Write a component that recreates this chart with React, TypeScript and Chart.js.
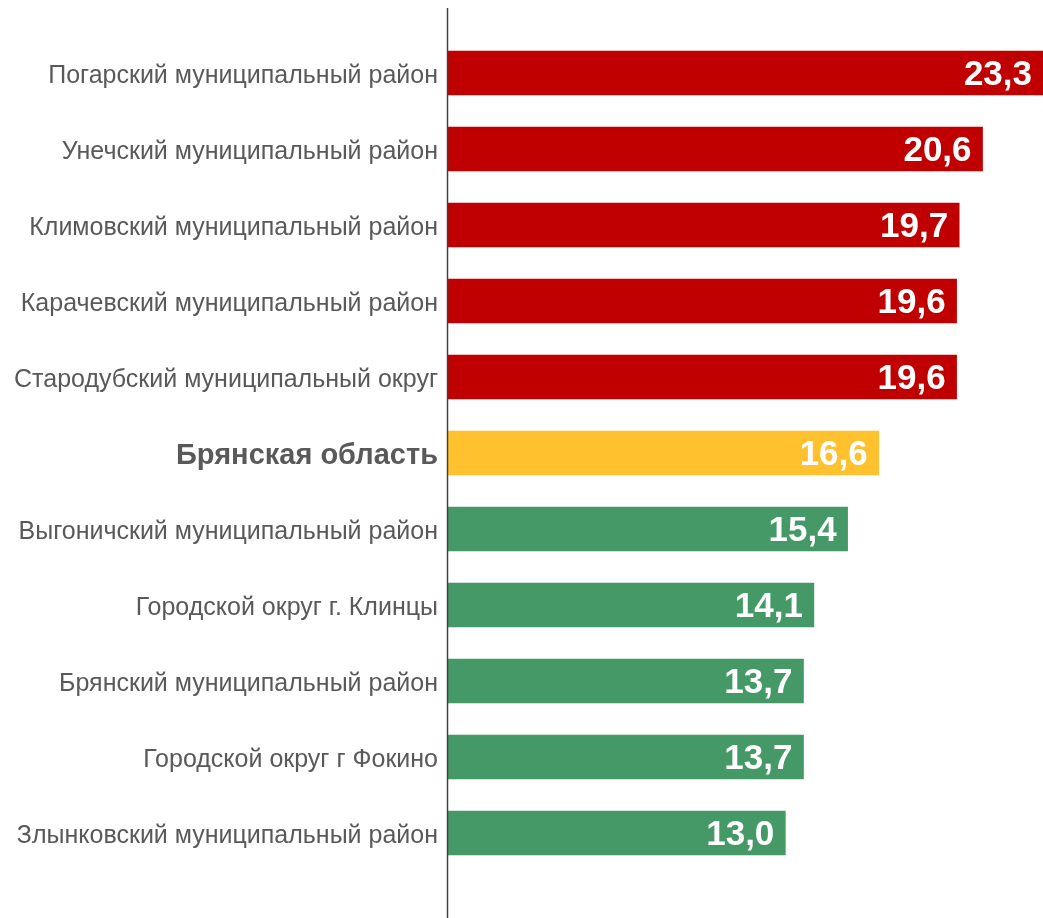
import React, { useEffect, useRef } from "react";
import { Chart, registerables } from "chart.js";

Chart.register(...registerables);

const categories = [
  "Погарский муниципальный район",
  "Унечский муниципальный район",
  "Климовский муниципальный район",
  "Карачевский муниципальный район",
  "Стародубский муниципальный округ",
  "Брянская область",
  "Выгоничский муниципальный район",
  "Городской округ г. Клинцы",
  "Брянский муниципальный район",
  "Городской округ г Фокино",
  "Злынковский муниципальный район",
];
const values = [23.3, 20.6, 19.7, 19.6, 19.6, 16.6, 15.4, 14.1, 13.7, 13.7, 13.0];
const barColors = [
  "#C00000", "#C00000", "#C00000", "#C00000", "#C00000",
  "#FFC12D",
  "#449966", "#449966", "#449966", "#449966", "#449966",
];
const boldIndex = 5;

const valueLabels = {
  id: "valueLabels",
  afterDatasetsDraw(chart: any) {
    const { ctx, chartArea } = chart;
    const meta = chart.getDatasetMeta(0);
    ctx.save();
    ctx.font = "bold 35px 'Liberation Sans', Arial, sans-serif";
    ctx.fillStyle = "#FFFFFF";
    ctx.textAlign = "right";
    ctx.textBaseline = "middle";
    meta.data.forEach((el: any, i: number) => {
      const v = chart.data.datasets[0].data[i] as number;
      const txt = v.toFixed(1).replace(".", ",");
      const xEnd = Math.min(el.x, chartArea.right);
      ctx.fillText(txt, xEnd - 11, el.y + 2);
    });
    ctx.restore();
  },
};

const axisLine = {
  id: "axisLine",
  afterDraw(chart: any) {
    const { ctx, chartArea } = chart;
    ctx.save();
    ctx.strokeStyle = "#404040";
    ctx.lineWidth = 1.5;
    ctx.beginPath();
    ctx.moveTo(chartArea.left - 0.5, 8);
    ctx.lineTo(chartArea.left - 0.5, 918);
    ctx.stroke();
    ctx.restore();
  },
};

export default function App() {
  const ref = useRef<HTMLCanvasElement>(null);
  useEffect(() => {
    if (!ref.current) return;
    const chart = new Chart(ref.current, {
      type: "bar",
      data: {
        labels: categories,
        datasets: [
          {
            data: values,
            backgroundColor: barColors,
            borderWidth: 0,
            barThickness: 44,
          },
        ],
      },
      options: {
        indexAxis: "y",
        animation: false,
        responsive: true,
        maintainAspectRatio: false,
        layout: { padding: { top: 35, bottom: 47, left: 0, right: 0 } },
        plugins: {
          legend: { display: false },
          tooltip: { enabled: false },
        },
        scales: {
          x: {
            min: 0,
            max: 22.93,
            display: false,
            grid: { display: false },
          },
          y: {
            afterFit(scale: any) {
              scale.width = 448;
            },
            grid: { display: false, drawTicks: false },
            border: { display: false },
            ticks: {
              padding: 10,
              labelOffset: 3,
              color: "#595959",
              font: (ctx: any) => ({
                family: "'Liberation Sans', Arial, sans-serif",
                size: ctx.index === boldIndex ? 29 : 25,
                weight: ctx.index === boldIndex ? "bold" : "normal",
              }),
            },
          },
        },
      },
      plugins: [valueLabels, axisLine],
    });
    return () => chart.destroy();
  }, []);
  return (
    <div style={{ position: "absolute", left: 0, top: 0, width: 1043, height: 918 }}>
      <canvas ref={ref} />
    </div>
  );
}
